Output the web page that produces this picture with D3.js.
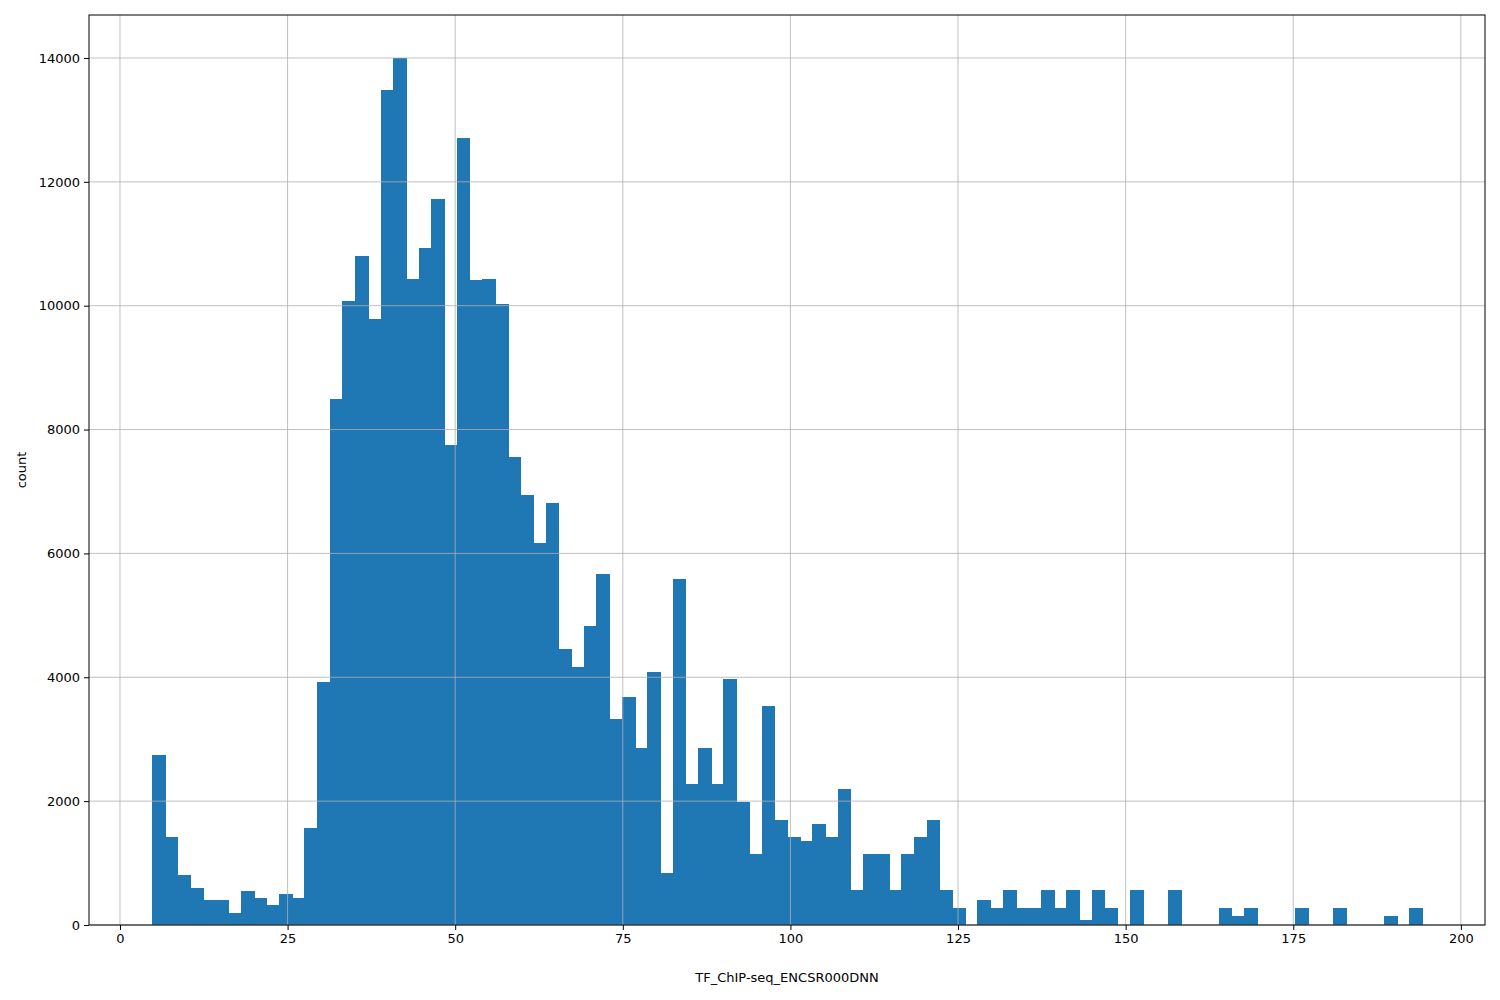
<!DOCTYPE html>
<html><head><meta charset="utf-8">
<script src="https://cdn.jsdelivr.net/npm/d3@7"></script>
<style>body{margin:0;background:#fff}text{font-family:"DejaVu Sans",sans-serif}</style>
</head><body><svg id="c" width="1500" height="1000"></svg>
<script>
const binStart = 4.77, binEnd = 194.2;
const counts = [2750,1420,800,600,400,400,200,550,430,330,500,430,1570,3930,8500,10080,10800,9780,13480,14000,
10430,10930,11730,7750,12700,10420,10430,10020,7560,6950,6170,6820,4460,4170,4830,5670,3330,3680,2850,4090,
840,5590,2270,2850,2270,3980,1990,1140,3540,1700,1420,1350,1630,1420,2190,570,1140,1140,570,1140,
1420,1700,570,280,0,400,280,570,280,280,570,280,570,85,570,280,0,570,0,0,
570,0,0,0,280,140,280,0,0,0,280,0,0,280,0,0,0,140,0,280];
const xTicks = [0,25,50,75,100,125,150,175,200];
const yTicks = [0,2000,4000,6000,8000,10000,12000,14000];

const L=89,R=1485,T=15,B=925;
const svg=d3.select("#c");
const x=d3.scaleLinear().domain([-4.62,203.6]).range([L,R]);
const y=d3.scaleLinear().domain([0,14694]).range([B,T]);
const w=(binEnd-binStart)/counts.length;
svg.append("g").attr("shape-rendering","crispEdges").selectAll("rect").data(counts).join("rect")
 .attr("x",(d,i)=>Math.round(x(binStart+i*w))).attr("width",(d,i)=>Math.round(x(binStart+(i+1)*w))-Math.round(x(binStart+i*w))+0.5)
 .attr("y",d=>y(d)).attr("height",d=>B-y(d)).attr("fill","#1f77b4");
const g=svg.append("g");
xTicks.forEach(t=>g.append("line").attr("x1",x(t)).attr("x2",x(t)).attr("y1",T).attr("y2",B).attr("stroke","#b0b0b0").attr("stroke-width",0.8));
yTicks.forEach(t=>g.append("line").attr("x1",L).attr("x2",R).attr("y1",y(t)).attr("y2",y(t)).attr("stroke","#b0b0b0").attr("stroke-width",0.8));
const xa=svg.append("g").attr("transform",`translate(0,${B})`).call(d3.axisBottom(x).tickValues(xTicks).tickSize(5).tickPadding(4).tickFormat(d3.format("d")));
const ya=svg.append("g").attr("transform",`translate(${L},0)`).call(d3.axisLeft(y).tickValues(yTicks).tickSize(5).tickPadding(4).tickFormat(d3.format("d")));
[xa,ya].forEach(a=>{a.select(".domain").remove();a.selectAll("text").attr("font-size",13).attr("fill","#000").attr("font-family","DejaVu Sans");a.selectAll("line").attr("stroke","#000");});
svg.append("rect").attr("x",L).attr("y",T).attr("width",R-L).attr("height",B-T).attr("fill","none").attr("stroke","#000").attr("stroke-width",1);
svg.append("text").attr("x",(L+R)/2).attr("y",982).attr("text-anchor","middle").attr("font-size",13).text("TF_ChIP-seq_ENCSR000DNN");
svg.append("text").attr("transform",`translate(26,${(T+B)/2}) rotate(-90)`).attr("text-anchor","middle").attr("font-size",13).text("count");
</script></body></html>
